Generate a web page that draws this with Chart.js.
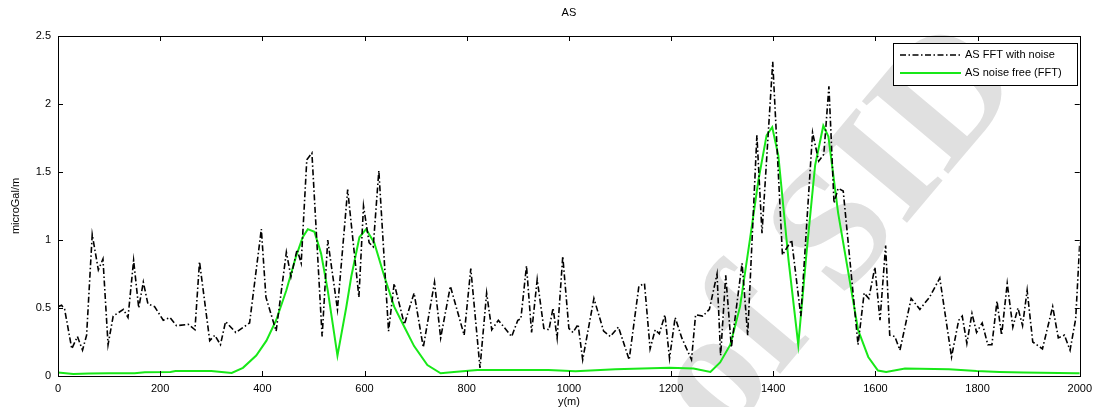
<!DOCTYPE html>
<html>
<head>
<meta charset="utf-8">
<title>AS</title>
<script src="https://cdn.jsdelivr.net/npm/chart.js@4.4.0/dist/chart.umd.min.js"></script>
<style>
    html, body { margin: 0; padding: 0; background: #fff; overflow: hidden; }
    #wrap { width: 1098px; height: 412px; }
</style>
</head>
<body>
<div id="wrap"><canvas id="asChart" width="1098" height="412"></canvas></div>
<script>
// Analytic signal along the profile: distance (m) and amplitude (microGal/m)
const noisyX = [0, 7, 13, 27, 38, 48, 56, 67, 79, 88, 98, 108, 128, 137, 148, 158, 167, 176, 189, 206,
    219, 232, 255, 268, 277, 297, 307, 318, 328, 348, 375, 398, 407, 427, 447, 456, 468, 476, 487, 497,
    517, 528, 547, 567, 589, 598, 609, 617, 628, 647, 658, 678, 697, 715, 737, 749, 768, 795, 808, 826,
    839, 849, 862, 888, 900, 906, 917, 927, 938, 951, 961, 969, 977, 988, 1000, 1008, 1018, 1027, 1049, 1068,
    1081, 1097, 1118, 1137, 1148, 1159, 1169, 1177, 1188, 1197, 1208, 1221, 1240, 1248, 1262, 1275, 1290, 1297, 1307, 1318,
    1339, 1350, 1368, 1378, 1399, 1418, 1436, 1454, 1477, 1489, 1499, 1509, 1519, 1527, 1537, 1566, 1578, 1587, 1599, 1609,
    1620, 1628, 1638, 1648, 1670, 1687, 1706, 1726, 1749, 1763, 1770, 1779, 1789, 1798, 1809, 1820, 1828, 1838, 1847, 1858,
    1869, 1879, 1888, 1897, 1908, 1927, 1947, 1958, 1970, 1981, 1992, 2000];
const noisyY = [0.51, 0.52, 0.49, 0.20, 0.29, 0.19, 0.30, 1.04, 0.78, 0.86, 0.23, 0.44, 0.49, 0.43, 0.85, 0.50, 0.69, 0.53, 0.51, 0.41,
    0.43, 0.37, 0.38, 0.34, 0.84, 0.26, 0.30, 0.23, 0.40, 0.32, 0.39, 1.08, 0.58, 0.33, 0.91, 0.73, 0.93, 0.83, 1.59, 1.64,
    0.29, 1.00, 0.49, 1.37, 0.58, 1.25, 0.98, 0.95, 1.51, 0.33, 0.68, 0.38, 0.61, 0.21, 0.69, 0.28, 0.66, 0.30, 0.79, 0.06,
    0.61, 0.34, 0.41, 0.29, 0.41, 0.42, 0.81, 0.32, 0.71, 0.35, 0.34, 0.50, 0.28, 0.88, 0.35, 0.32, 0.38, 0.12, 0.57, 0.33,
    0.29, 0.36, 0.12, 0.66, 0.68, 0.20, 0.34, 0.31, 0.45, 0.13, 0.43, 0.28, 0.12, 0.45, 0.44, 0.49, 0.75, 0.15, 0.74, 0.21,
    0.83, 0.30, 1.77, 1.05, 2.31, 0.89, 1.00, 0.44, 1.79, 1.58, 1.63, 2.13, 1.27, 1.38, 1.36, 0.23, 0.61, 0.57, 0.80, 0.41,
    0.96, 0.30, 0.29, 0.19, 0.57, 0.49, 0.58, 0.72, 0.14, 0.41, 0.44, 0.24, 0.46, 0.32, 0.39, 0.23, 0.23, 0.55, 0.30, 0.68,
    0.36, 0.50, 0.37, 0.63, 0.25, 0.20, 0.51, 0.28, 0.30, 0.19, 0.42, 0.98];

const cleanX = [0, 30, 60, 100, 150, 170, 220, 230, 300, 320, 340, 362, 388, 408, 427, 447, 466, 479, 489, 502,
    515, 528, 547, 564, 574, 590, 603, 619, 639, 658, 678, 697, 723, 749, 775, 821, 960, 1013, 1091, 1197,
    1244, 1277, 1296, 1316, 1335, 1355, 1371, 1387, 1398, 1410, 1430, 1449, 1465, 1482, 1498, 1508, 1527, 1547, 1566, 1586,
    1605, 1621, 1658, 1744, 1798, 1843, 1889, 1993, 2000];
const cleanY = [0.025, 0.015, 0.018, 0.02, 0.02, 0.028, 0.03, 0.036, 0.036, 0.03, 0.022, 0.06, 0.15, 0.26, 0.41, 0.63, 0.88, 1.02, 1.08, 1.06,
    0.90, 0.63, 0.15, 0.50, 0.73, 1.02, 1.08, 0.98, 0.73, 0.51, 0.36, 0.22, 0.08, 0.02, 0.03, 0.045, 0.045, 0.035, 0.05, 0.06,
    0.055, 0.03, 0.10, 0.23, 0.51, 1.02, 1.44, 1.77, 1.83, 1.62, 0.85, 0.23, 0.90, 1.55, 1.84, 1.76, 1.20, 0.76, 0.34, 0.14,
    0.04, 0.03, 0.055, 0.05, 0.037, 0.03, 0.025, 0.02, 0.02];

const xTicks = [0, 200, 400, 600, 800, 1000, 1200, 1400, 1600, 1800, 2000];
const yTicks = [0, 0.5, 1, 1.5, 2, 2.5];
const seriesLabels = ['AS FFT with noise', 'AS noise free (FFT)'];

const FONT = '"Liberation Sans", Arial, sans-serif';
Chart.defaults.font.family = FONT;
Chart.defaults.font.size = 11;
Chart.defaults.color = '#000';

function toPoints(xs, ys) {
    return xs.map((x, i) => ({ x: x, y: ys[i] }));
}

// faint background lettering, drawn under everything
const watermarkPlugin = {
    id: 'watermark',
    beforeDraw(chart) {
        const ctx = chart.ctx;
        ctx.save();
        ctx.translate(874, 262);
        ctx.rotate(-50 * Math.PI / 180);
        ctx.font = 'bold 172px "Liberation Serif", serif';
        ctx.fillStyle = '#e0e0e0';
        ctx.textAlign = 'center';
        ctx.textBaseline = 'alphabetic';
        ctx.fillText('of SID', 0, 0);
        ctx.restore();
    }
};

// axes box with inward ticks on all four sides, title and legend
const framePlugin = {
    id: 'frame',
    afterDatasetsDraw(chart) {
        const ctx = chart.ctx;
        const { left, right, top, bottom } = chart.chartArea;
        const xs = chart.scales.x, ys = chart.scales.y;
        const tl = 5;

        ctx.save();
        ctx.strokeStyle = '#000';
        ctx.lineWidth = 1;
        ctx.strokeRect(Math.round(left) + 0.5, Math.round(top) + 0.5,
            Math.round(right - left), Math.round(bottom - top));

        ctx.beginPath();
        xTicks.forEach(v => {
            const px = Math.round(xs.getPixelForValue(v)) + 0.5;
            ctx.moveTo(px, bottom); ctx.lineTo(px, bottom - tl);
            ctx.moveTo(px, top); ctx.lineTo(px, top + tl);
        });
        yTicks.forEach(v => {
            const py = Math.round(ys.getPixelForValue(v)) + 0.5;
            ctx.moveTo(left, py); ctx.lineTo(left + tl, py);
            ctx.moveTo(right, py); ctx.lineTo(right - tl, py);
        });
        ctx.stroke();

        // title
        ctx.fillStyle = '#000';
        ctx.font = '11px ' + FONT;
        ctx.textAlign = 'center';
        ctx.textBaseline = 'middle';
        ctx.fillText('AS', (left + right) / 2, 13);

        // legend
        const bx = 893, by = 43, bw = 184, bh = 42;
        ctx.fillStyle = '#fff';
        ctx.fillRect(bx, by, bw, bh);
        ctx.strokeStyle = '#000';
        ctx.strokeRect(bx + 0.5, by + 0.5, bw, bh);
        chart.data.datasets.forEach((ds, i) => {
            const ly = by + 12 + i * 18;
            ctx.save();
            ctx.strokeStyle = ds.borderColor;
            ctx.lineWidth = ds.borderWidth;
            ctx.setLineDash(ds.borderDash || []);
            ctx.beginPath();
            ctx.moveTo(bx + 7, ly);
            ctx.lineTo(bx + 68, ly);
            ctx.stroke();
            ctx.restore();
            ctx.fillStyle = '#000';
            ctx.textAlign = 'left';
            ctx.textBaseline = 'middle';
            ctx.fillText(ds.label, bx + 72, ly);
        });
        ctx.restore();
    }
};

new Chart(document.getElementById('asChart'), {
    type: 'line',
    data: {
        datasets: [{
            label: seriesLabels[0],
            data: toPoints(noisyX, noisyY),
            borderColor: '#000',
            borderWidth: 1.6,
            borderDash: [6, 2.5, 1.5, 2.5],
            pointRadius: 0,
            tension: 0
        }, {
            label: seriesLabels[1],
            data: toPoints(cleanX, cleanY),
            borderColor: 'rgb(24, 232, 24)',
            borderWidth: 2,
            pointRadius: 0,
            tension: 0
        }]
    },
    options: {
        responsive: false,
        animation: false,
        devicePixelRatio: 1,
        layout: { padding: { top: 36, right: 16, left: 0, bottom: 0 } },
        plugins: {
            legend: { display: false },
            tooltip: { enabled: false }
        },
        scales: {
            x: {
                type: 'linear',
                min: 0,
                max: 2000,
                afterBuildTicks: s => { s.ticks = xTicks.map(v => ({ value: v })); },
                afterFit: s => { s.height = 36; },
                grid: { display: false, drawTicks: false },
                border: { display: false },
                ticks: { padding: 6, maxRotation: 0, autoSkip: false, color: '#000', callback: v => String(v) },
                title: { display: true, text: 'y(m)', color: '#000', padding: { top: 0, bottom: 3 } }
            },
            y: {
                type: 'linear',
                min: 0,
                max: 2.5,
                afterBuildTicks: s => { s.ticks = yTicks.map(v => ({ value: v })); },
                afterFit: s => { s.width = 58; },
                grid: { display: false, drawTicks: false },
                border: { display: false },
                ticks: { padding: 7, color: '#000', callback: v => String(v) },
                title: { display: true, text: 'microGal/m', color: '#000', padding: { top: 9, bottom: 0 } }
            }
        }
    },
    plugins: [watermarkPlugin, framePlugin]
});
</script>
</body>
</html>
